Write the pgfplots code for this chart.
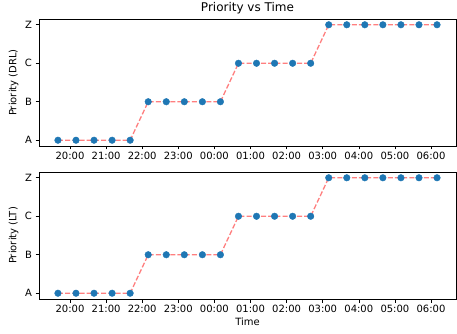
\documentclass[border=0pt]{standalone}
\usepackage{fontspec}
\setmainfont{DejaVu Sans}
\usepackage{pgfplots}
\pgfplotsset{compat=1.18}
\definecolor{mplblue}{HTML}{1F77B4}
\pgfplotsset{
  prio/.style={
    width=417pt, height=127pt, scale only axis,
    xmin=19.142, xmax=30.692,
    ymin=-0.15, ymax=3.15,
    xtick={20,21,22,23,24,25,26,27,28,29,30},
    xticklabels={20:00,21:00,22:00,23:00,00:00,01:00,02:00,03:00,04:00,05:00,06:00},
    ytick={0,1,2,3},
    yticklabels={A,B,C,Z},
    tick align=outside, major tick length=3.5pt,
    xtick pos=bottom, ytick pos=left,
    tick style={black, line width=0.6pt},
    axis line style={line width=0.6pt},
    ticklabel style={font=\fontsize{10}{11}\selectfont},
    xticklabel style={yshift=1pt},
    label style={font=\fontsize{10}{12}\selectfont},
    y label style={at={(axis description cs:0,0.5)}, anchor=south, yshift=17pt},
  }
}
\begin{document}
\begin{tikzpicture}
\begin{axis}[prio, at={(0,0)}, anchor=south west,
  ylabel={Priority (DRL)},
  title={Priority vs Time}, title style={font=\fontsize{12}{14}\selectfont, yshift=-5pt}]
\addplot[color=red, opacity=0.5, line width=1.3pt, dash pattern=on 5pt off 2.2pt] coordinates {
(19.6667,0)(20.1667,0)(20.6667,0)(21.1667,0)(21.6667,0)
(22.1667,1)(22.6667,1)(23.1667,1)(23.6667,1)(24.1667,1)
(24.6667,2)(25.1667,2)(25.6667,2)(26.1667,2)(26.6667,2)
(27.1667,3)(27.6667,3)(28.1667,3)(28.6667,3)(29.1667,3)(29.6667,3)(30.1667,3)};
\addplot[only marks, mark=*, mark size=3.3pt, mplblue, mark options={draw=mplblue, fill=mplblue}] coordinates {
(19.6667,0)(20.1667,0)(20.6667,0)(21.1667,0)(21.6667,0)
(22.1667,1)(22.6667,1)(23.1667,1)(23.6667,1)(24.1667,1)
(24.6667,2)(25.1667,2)(25.6667,2)(26.1667,2)(26.6667,2)
(27.1667,3)(27.6667,3)(28.1667,3)(28.6667,3)(29.1667,3)(29.6667,3)(30.1667,3)};
\end{axis}
\begin{axis}[prio, at={(0,-153pt)}, anchor=south west,
  ylabel={Priority (LT)}, xlabel={Time},
  x label style={yshift=2pt}]
\addplot[color=red, opacity=0.5, line width=1.3pt, dash pattern=on 5pt off 2.2pt] coordinates {
(19.6667,0)(20.1667,0)(20.6667,0)(21.1667,0)(21.6667,0)
(22.1667,1)(22.6667,1)(23.1667,1)(23.6667,1)(24.1667,1)
(24.6667,2)(25.1667,2)(25.6667,2)(26.1667,2)(26.6667,2)
(27.1667,3)(27.6667,3)(28.1667,3)(28.6667,3)(29.1667,3)(29.6667,3)(30.1667,3)};
\addplot[only marks, mark=*, mark size=3.3pt, mplblue, mark options={draw=mplblue, fill=mplblue}] coordinates {
(19.6667,0)(20.1667,0)(20.6667,0)(21.1667,0)(21.6667,0)
(22.1667,1)(22.6667,1)(23.1667,1)(23.6667,1)(24.1667,1)
(24.6667,2)(25.1667,2)(25.6667,2)(26.1667,2)(26.6667,2)
(27.1667,3)(27.6667,3)(28.1667,3)(28.6667,3)(29.1667,3)(29.6667,3)(30.1667,3)};
\end{axis}
\pgfresetboundingbox
\path[use as bounding box] (-39pt,-188pt) rectangle (418pt,146pt);
\end{tikzpicture}
\end{document}
